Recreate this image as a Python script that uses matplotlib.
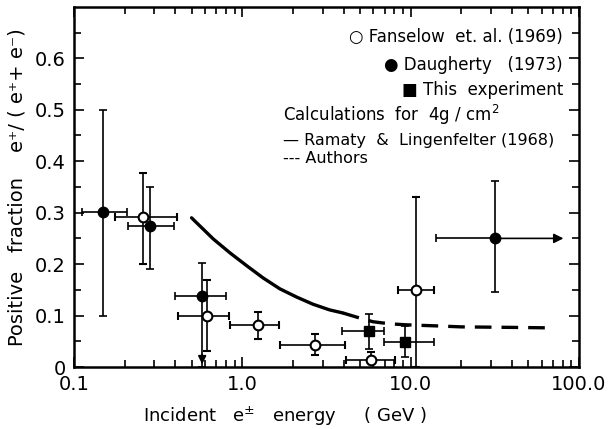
import numpy as np
import matplotlib
matplotlib.use('Agg')
import matplotlib.pyplot as plt
from matplotlib.ticker import FixedLocator, NullFormatter, LogLocator

# Fanselow et al. (1969) - open circles
fan_x = [0.258, 0.618, 1.24, 2.69, 5.79, 10.7]
fan_y = [0.292, 0.100, 0.081, 0.043, 0.014, 0.150]
fan_xlo = [0.174, 0.416, 0.845, 1.67, 4.11, 8.4]
fan_xhi = [0.408, 0.836, 1.65, 4.05, 8.1, 13.7]
fan_ylo = [0.200, 0.031, 0.055, 0.023, 0.008, 0.0]
fan_yhi = [0.377, 0.169, 0.107, 0.064, 0.030, 0.330]

# Daugherty (1973) - filled circles
dau_x = [0.149, 0.283, 0.577, 31.6]
dau_y = [0.301, 0.275, 0.138, 0.250]
dau_xlo = [0.111, 0.208, 0.396, 14.1]
dau_xhi = [0.206, 0.391, 0.799, 31.6]
dau_ylo = [0.100, 0.191, 0.0, 0.145]
dau_yhi = [0.500, 0.350, 0.203, 0.362]
dau_arrow_x = 84.0  # right-pointing arrow end for last point

# This experiment - filled squares
exp_x = [5.66, 9.3]
exp_y = [0.070, 0.048]
exp_xlo = [3.9, 6.9]
exp_xhi = [6.9, 13.8]
exp_ylo = [0.035, 0.02]
exp_yhi = [0.103, 0.080]

# Ramaty & Lingenfelter (1968) - solid curve
rl_x = [0.499, 0.560, 0.671, 0.843, 1.06, 1.33, 1.67, 2.10, 2.63, 3.30, 3.96]
rl_y = [0.290, 0.274, 0.249, 0.222, 0.197, 0.173, 0.152, 0.136, 0.122, 0.111, 0.105]

# Authors - dashed curve
au_x = [3.96, 5.0, 5.97, 7.5, 9.4, 14.0, 20.0, 40.0, 70.0]
au_y = [0.105, 0.095, 0.088, 0.084, 0.082, 0.080, 0.078, 0.077, 0.076]

fig = plt.figure(figsize=(6.12, 4.29), dpi=100)
ax = fig.add_axes([0.121, 0.1445, 0.825, 0.8395])


def errs(x, y, xlo, xhi, ylo, yhi):
    x = np.array(x); y = np.array(y)
    xe = [x - np.array(xlo), np.array(xhi) - x]
    ye = [y - np.array(ylo), np.array(yhi) - y]
    return xe, ye


xe, ye = errs(fan_x, fan_y, fan_xlo, fan_xhi, fan_ylo, fan_yhi)
ax.errorbar(fan_x, fan_y, xerr=xe, yerr=ye, fmt='o', mfc='white', mec='black',
            mew=1.5, ms=7, ecolor='black', elinewidth=1.2, capsize=3, capthick=1.2, zorder=3)

xe, ye = errs(dau_x, dau_y, dau_xlo, dau_xhi, dau_ylo, dau_yhi)
ax.errorbar(dau_x, dau_y, xerr=xe, yerr=ye, fmt='o', mfc='black', mec='black',
            ms=7.5, ecolor='black', elinewidth=1.2, capsize=3, capthick=1.2, zorder=3)

xe, ye = errs(exp_x, exp_y, exp_xlo, exp_xhi, exp_ylo, exp_yhi)
ax.errorbar(exp_x, exp_y, xerr=xe, yerr=ye, fmt='s', mfc='black', mec='black',
            ms=7, ecolor='black', elinewidth=1.2, capsize=3, capthick=1.2, zorder=3)

# arrows: upper limit on 3rd Daugherty point, lower energy limit on last point
ax.annotate('', xy=(dau_x[2], 0.0), xytext=(dau_x[2], 0.03),
            arrowprops=dict(arrowstyle='-|>', color='black', lw=1.2, mutation_scale=12))
ax.annotate('', xy=(dau_arrow_x, dau_y[3]), xytext=(dau_x[3], dau_y[3]),
            arrowprops=dict(arrowstyle='-|>', color='black', lw=1.2, mutation_scale=14))

ax.plot(rl_x, rl_y, '-', color='black', lw=2.4, solid_capstyle='round')
ax.plot(au_x, au_y, '--', color='black', lw=2.4, dashes=(5, 3))

ax.set_xscale('log')
ax.set_xlim(0.1, 100)
ax.set_ylim(0, 0.7)

ax.xaxis.set_major_locator(FixedLocator([0.1, 1, 10, 100]))
ax.set_xticklabels(['0.1', '1.0', '10.0', '100.0'])
ax.xaxis.set_minor_locator(LogLocator(base=10, subs=np.arange(2, 10)))
ax.xaxis.set_minor_formatter(NullFormatter())
ax.set_yticks([0, 0.1, 0.2, 0.3, 0.4, 0.5, 0.6])
ax.set_yticklabels(['0', '0.1', '0.2', '0.3', '0.4', '0.5', '0.6'])
ax.set_yticks(np.arange(0.05, 0.7, 0.1), minor=True)

ax.tick_params(which='both', direction='in', top=True, right=True, labelsize=14, width=1.2)
ax.tick_params(which='major', length=7, pad=6)
ax.tick_params(which='minor', length=5)
for s in ax.spines.values():
    s.set_linewidth(1.8)

ax.set_xlabel('Incident   e$^{\\pm}$   energy     ( GeV )', fontsize=13, labelpad=8)
ax.xaxis.set_label_coords(0.418, -0.105)
ax.set_ylabel('Positive   fraction    e\u207a/ ( e\u207a+ e\u207b)', fontsize=14, labelpad=6)

# legend-like annotations
tx = 0.968
ax.text(tx, 0.917, '\u25cb Fanselow  et. al. (1969)', transform=ax.transAxes, ha='right', va='center', fontsize=12)
ax.text(tx, 0.839, '\u25cf Daugherty   (1973)', transform=ax.transAxes, ha='right', va='center', fontsize=12)
ax.text(tx, 0.769, '\u25a0 This  experiment', transform=ax.transAxes, ha='right', va='center', fontsize=12)
ax.text(0.414, 0.70, 'Calculations  for  4g / cm$^{2}$', transform=ax.transAxes, ha='left', va='center', fontsize=12)
ax.text(0.414, 0.63, '\u2014 Ramaty  &  Lingenfelter (1968)', transform=ax.transAxes, ha='left', va='center', fontsize=11.5)
ax.text(0.414, 0.58, '--- Authors', transform=ax.transAxes, ha='left', va='center', fontsize=11.5)

fig.savefig('out.png', dpi=100)
